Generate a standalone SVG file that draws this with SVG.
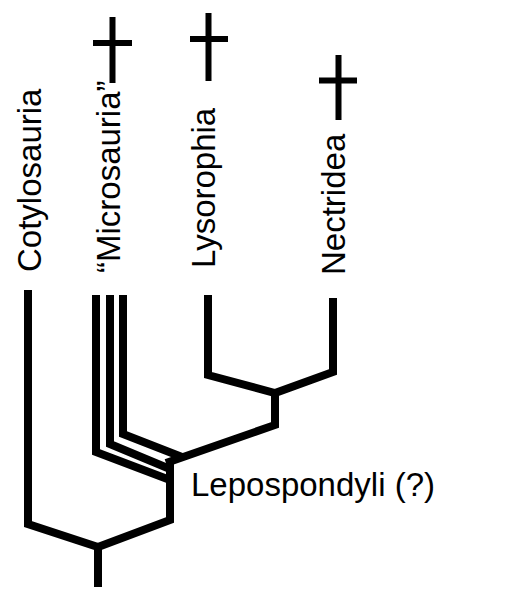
<svg xmlns="http://www.w3.org/2000/svg" width="506" height="593" viewBox="0 0 506 593">
<style>
.lbl{font-family:"Liberation Sans",Arial,sans-serif;font-size:33px;fill:#000}
.br{fill:none;stroke:#000;stroke-width:8;stroke-linejoin:miter}
.cross{fill:none;stroke:#000;stroke-width:6}
</style>
<rect width="506" height="593" fill="#fff"/>
<g id="connectors">
<path class="br" d="M28,290 V524 L98,547 L170,520 V462"/>
<path class="br" d="M98,547 V587"/>
<path class="br" d="M166,463 L275,425 V390"/>
<path class="br" d="M208,295 V375 L275,393 L333,372 V298"/>
<path class="br" d="M96,295 V452 L170,480"/>
<path class="br" d="M110,295 V444 L170,469"/>
<path class="br" d="M123,295 V434 L182,457"/>
</g>
<g id="cotylosauria"><text class="lbl" transform="translate(41,272) rotate(-90)">Cotylosauria</text></g>
<g id="microsauria">
<text class="lbl" transform="translate(120,273) rotate(-90)">“Microsauria”</text>
<path class="cross" d="M112.5,17 V83 M93,43 H132"/>
</g>
<g id="lysorophia">
<text class="lbl" transform="translate(215,268) rotate(-90)">Lysorophia</text>
<path class="cross" d="M208.5,13 V81 M190,39 H228"/>
</g>
<g id="nectridea">
<text class="lbl" transform="translate(345,275) rotate(-90)">Nectridea</text>
<path class="cross" d="M338.5,55 V120 M319,80.5 H357"/>
</g>
<g id="lepospondyli"><text class="lbl" x="191" y="496">Lepospondyli (?)</text></g>
</svg>
